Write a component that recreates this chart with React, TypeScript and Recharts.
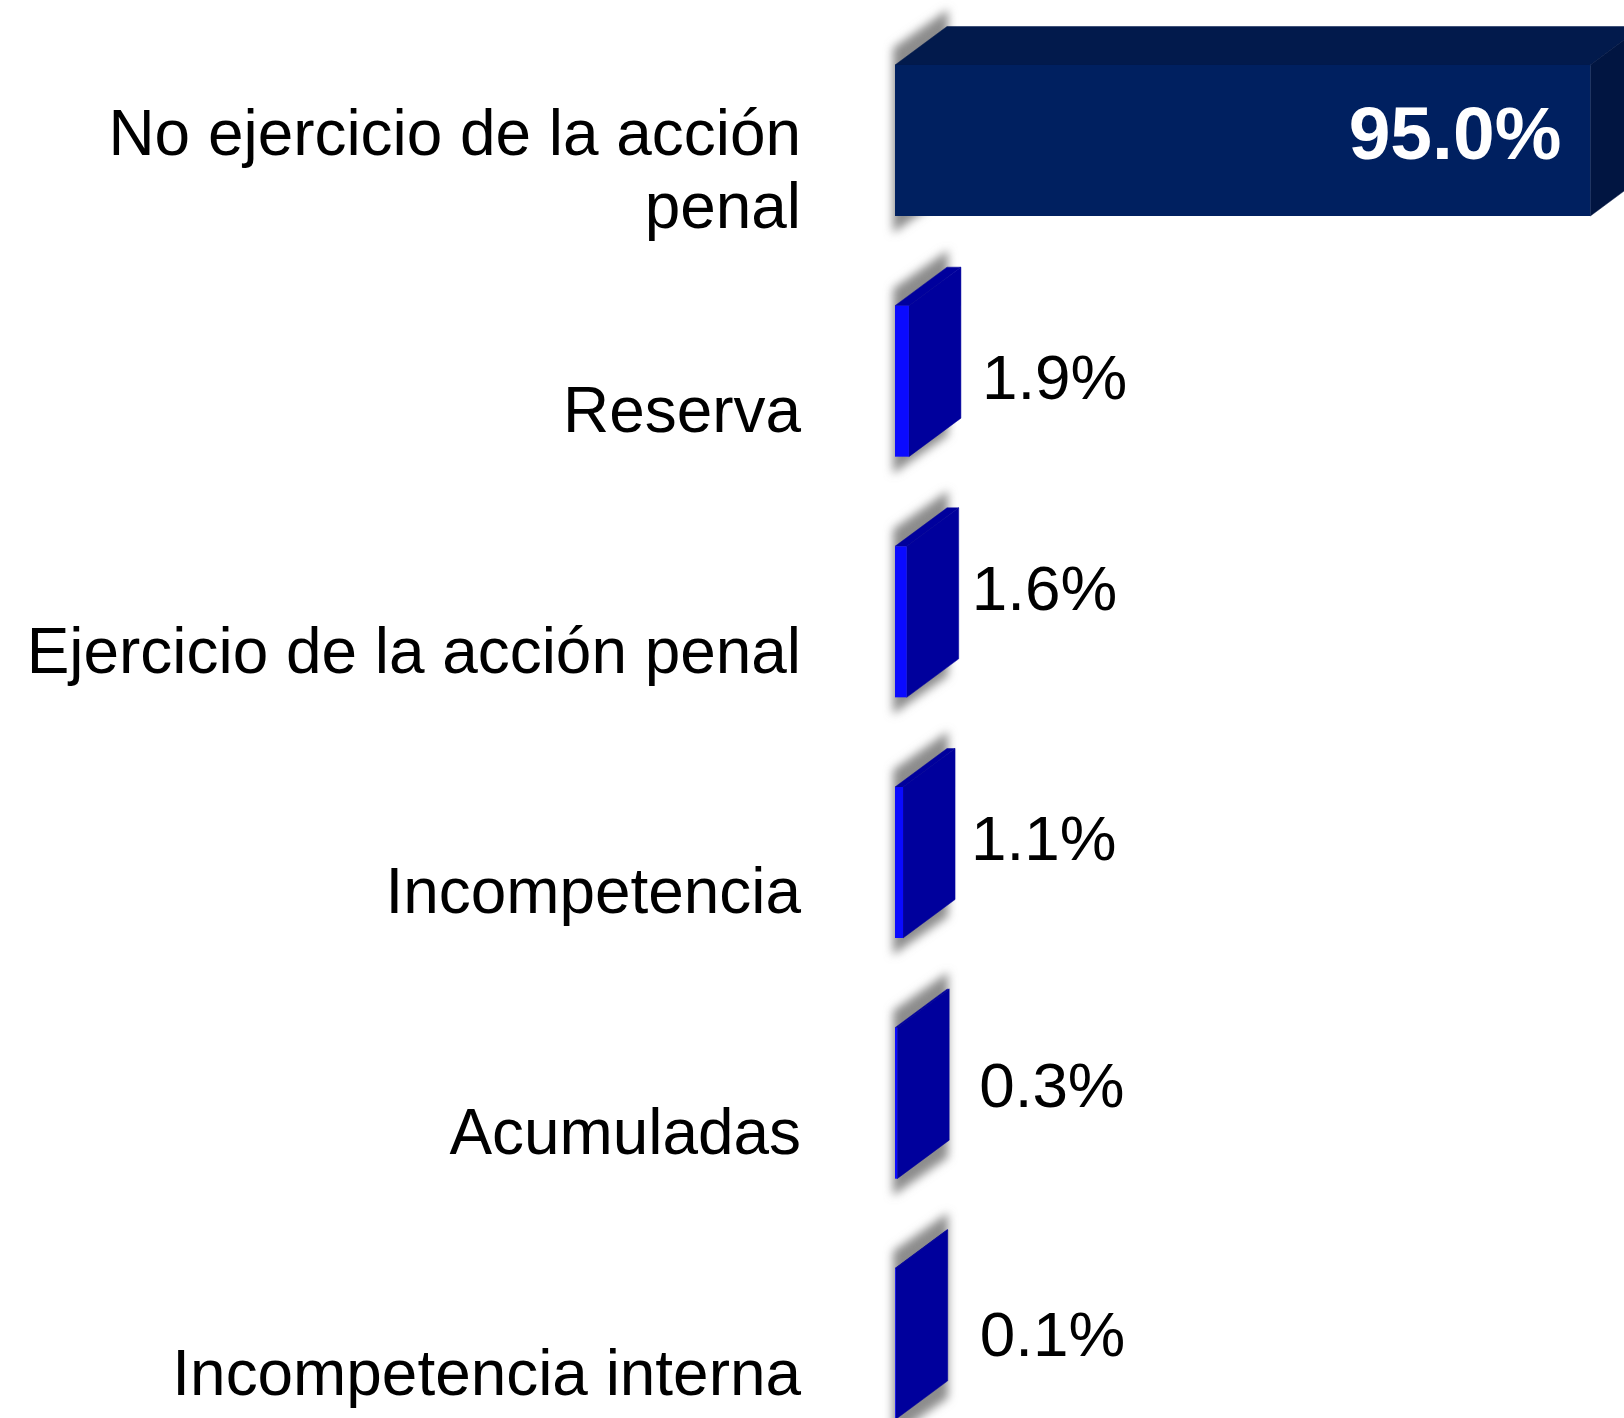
import { BarChart, Bar, XAxis, YAxis, LabelList } from 'recharts'

const categories = [
  'No ejercicio de la acción penal',
  'Reserva',
  'Ejercicio de la acción penal',
  'Incompetencia',
  'Acumuladas',
  'Incompetencia interna',
]
const values = [95.0, 1.9, 1.6, 1.1, 0.3, 0.1]
const data = categories.map((category, i) => ({ category, value: values[i] }))

const FONT = '"Liberation Sans", Arial, sans-serif'
const DEPTH_X = 52
const DEPTH_Y = 38.5

// label nudges from the end of each bar, the source chart placed these by hand
const labelNudge = [
  [-29, -8],
  [73, -4],
  [65, -34],
  [68, -25],
  [82, -18],
  [84, -10],
]

const pts = (list: number[][]) => list.map((p) => p.join(',')).join(' ')

function Bar3D({ x, y, width, height, index }: any) {
  const isMain = index === 0
  const front = isMain ? '#002060' : '#0a0aff'
  const top = isMain ? '#021a4c' : '#00009c'
  const side = isMain ? '#011541' : '#00009c'
  const right = x + width
  const bottom = y + height
  const shadowId = `bar-shadow-${index}`
  return (
    <g>
      <defs>
        <filter id={shadowId} x="-50%" y="-50%" width="200%" height="200%">
          <feGaussianBlur stdDeviation="5" />
        </filter>
      </defs>
      <polygon
        points={pts([
          [x - 2, y - 17],
          [x + DEPTH_X + 1, y - 17 - DEPTH_Y],
          [x + DEPTH_X + 1, bottom + 17 - DEPTH_Y],
          [x - 2, bottom + 17],
        ])}
        fill="#8c8c8c"
        filter={`url(#${shadowId})`}
      />
      <polygon
        points={pts([
          [x, y],
          [x + DEPTH_X, y - DEPTH_Y],
          [right + DEPTH_X, y - DEPTH_Y],
          [right, y],
        ])}
        fill={top}
        stroke={top}
        strokeWidth={0.5}
      />
      <polygon
        points={pts([
          [right, y],
          [right + DEPTH_X, y - DEPTH_Y],
          [right + DEPTH_X, bottom - DEPTH_Y],
          [right, bottom],
        ])}
        fill={side}
        stroke={side}
        strokeWidth={0.5}
      />
      <rect x={x} y={y} width={width} height={height} fill={front} />
    </g>
  )
}

function CategoryTick({ y, payload }: any) {
  const text: string = payload.value
  const lines =
    text.length > 30
      ? [text.slice(0, text.lastIndexOf(' ')), text.slice(text.lastIndexOf(' ') + 1)]
      : [text]
  const lineHeight = 73
  const startY = y + 29 - ((lines.length - 1) * lineHeight) / 2
  return (
    <text textAnchor="end" fontFamily={FONT} fontSize={63.9} fill="#000">
      {lines.map((line, i) => (
        <tspan key={line} x={801} y={startY + i * lineHeight} dominantBaseline="central">
          {line}
        </tspan>
      ))}
    </text>
  )
}

function ValueLabel({ x, y, width, height, value, index }: any) {
  const isMain = index === 0
  const [dx, dy] = labelNudge[index]
  return (
    <text
      x={x + width + dx}
      y={y + height / 2 + dy}
      textAnchor={isMain ? 'end' : 'start'}
      dominantBaseline="central"
      fontFamily={FONT}
      fontSize={isMain ? 75 : 63.8}
      fontWeight={isMain ? 'bold' : 'normal'}
      fill={isMain ? '#fff' : '#000'}
    >
      {`${Number(value).toFixed(1)}%`}
    </text>
  )
}

export default function App() {
  return (
    <div style={{ position: 'absolute', left: 0, top: 0, width: 1624, height: 1418, overflow: 'hidden', background: '#fff' }}>
      <BarChart
        width={1624}
        height={1464}
        data={data}
        layout="vertical"
        barSize={151}
        margin={{ top: 20, right: 0, bottom: 0, left: 0 }}
      >
        <XAxis type="number" hide domain={[0, 99.6]} />
        <YAxis
          type="category"
          dataKey="category"
          width={895}
          axisLine={false}
          tickLine={false}
          interval={0}
          tick={<CategoryTick />}
        />
        <Bar dataKey="value" isAnimationActive={false} shape={<Bar3D />}>
          <LabelList dataKey="value" content={<ValueLabel />} />
        </Bar>
      </BarChart>
    </div>
  )
}
